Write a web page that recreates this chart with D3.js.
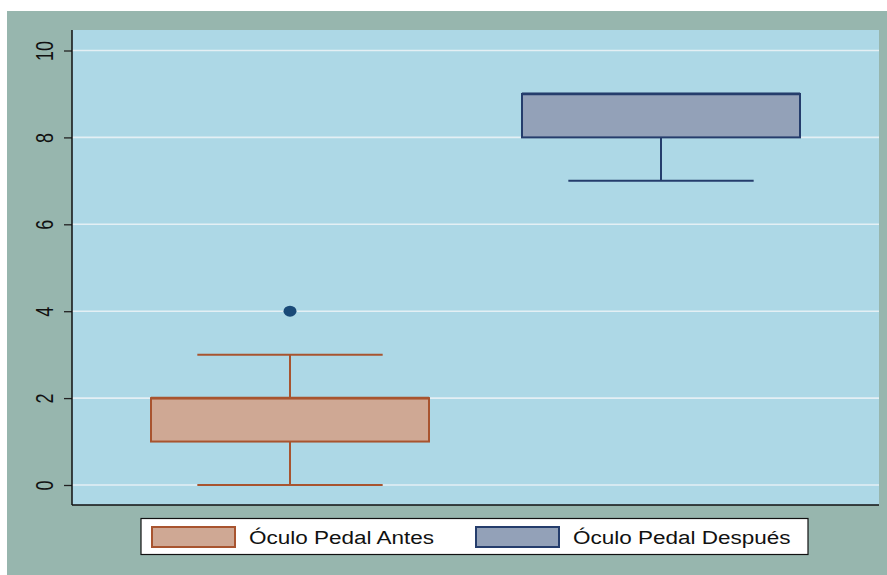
<!DOCTYPE html>
<html><head><meta charset="utf-8">
<script src="https://cdn.jsdelivr.net/npm/d3@7"></script>
<style>body{margin:0;background:#fff}svg{display:block}</style>
</head><body>
<script>
const categories = ["Óculo Pedal Antes", "Óculo Pedal Después"];
const q1 = [1, 8];
const median = [2, 9];
const q3 = [2, 9];
const whiskerLow = [0, 7];
const whiskerHigh = [3, 9];
const outliers = [[4], []];
const yTicks = [0, 2, 4, 6, 8, 10];
const fills = ["#cfa894", "#93a1b8"];
const strokes = ["#a8542f", "#253d6c"];

const W = 887, H = 575;
const svg = d3.select("body").append("svg").attr("width", W).attr("height", H);
svg.append("rect").attr("x", 7).attr("y", 11).attr("width", W - 7).attr("height", H - 11).attr("fill", "#97b6ae");
const pl = 72, pr = 879, pt = 30, pb = 505;
svg.append("rect").attr("x", pl).attr("y", pt).attr("width", pr - pl).attr("height", pb - pt).attr("fill", "#add8e6");

const y = d3.scaleLinear().domain([0, 10]).range([485, 50.5]);
const xc = d3.scalePoint().domain(categories).range([290, 661]);
const boxW = 278;

// grid
svg.append("g").selectAll("line").data(yTicks).join("line")
  .attr("x1", pl).attr("x2", pr).attr("y1", d => y(d)).attr("y2", d => y(d))
  .attr("stroke", "#e4eff4").attr("stroke-width", 1.6);

const g = svg.append("g");
categories.forEach((c, i) => {
  const cx = xc(c);
  const gg = g.append("g");
  gg.append("line").attr("x1", cx).attr("x2", cx).attr("y1", y(q1[i])).attr("y2", y(whiskerLow[i]))
    .attr("stroke", strokes[i]).attr("stroke-width", 2);
  gg.append("line").attr("x1", cx).attr("x2", cx).attr("y1", y(q3[i])).attr("y2", y(whiskerHigh[i]))
    .attr("stroke", strokes[i]).attr("stroke-width", 2);
  if (whiskerLow[i] < q1[i])
    gg.append("line").attr("x1", cx - boxW / 3).attr("x2", cx + boxW / 3).attr("y1", y(whiskerLow[i])).attr("y2", y(whiskerLow[i]))
      .attr("stroke", strokes[i]).attr("stroke-width", 2);
  if (whiskerHigh[i] > q3[i])
    gg.append("line").attr("x1", cx - boxW / 3).attr("x2", cx + boxW / 3).attr("y1", y(whiskerHigh[i])).attr("y2", y(whiskerHigh[i]))
      .attr("stroke", strokes[i]).attr("stroke-width", 2);
  gg.append("rect").attr("x", cx - boxW / 2).attr("y", y(q3[i])).attr("width", boxW).attr("height", y(q1[i]) - y(q3[i]))
    .attr("fill", fills[i]).attr("stroke", strokes[i]).attr("stroke-width", 2);
  gg.append("line").attr("x1", cx - boxW / 2).attr("x2", cx + boxW / 2).attr("y1", y(median[i])).attr("y2", y(median[i]))
    .attr("stroke", strokes[i]).attr("stroke-width", 2.8);
  outliers[i].forEach(o => {
    gg.append("ellipse").attr("cx", cx).attr("cy", y(o)).attr("rx", 6.5).attr("ry", 5.5).attr("fill", "#1a4a78");
  });
});

// axes
const ya = svg.append("g").attr("transform", `translate(${pl},0)`)
  .call(d3.axisLeft(y).tickValues(yTicks).tickSize(8).tickFormat(d3.format("d")));
ya.select(".domain").remove();
ya.selectAll(".tick line").attr("stroke", "#222").attr("stroke-width", 1.3);
ya.selectAll(".tick text").attr("font-family", "Liberation Sans, Arial, sans-serif").attr("font-size", 18)
  .attr("fill", "#111").attr("text-anchor", "middle").attr("x", null).attr("y", null)
  .attr("transform", "translate(-27.5,0) scale(1.32,1) rotate(-90)").attr("dy", "0.35em");
svg.append("line").attr("x1", pl).attr("x2", pl).attr("y1", pt).attr("y2", pb).attr("stroke", "#111").attr("stroke-width", 1.5);
svg.append("line").attr("x1", pl).attr("x2", pr).attr("y1", pb).attr("y2", pb).attr("stroke", "#111").attr("stroke-width", 1.5);

// legend
const lg = svg.append("g");
lg.append("rect").attr("x", 141).attr("y", 518.5).attr("width", 667).attr("height", 36).attr("fill", "#fff").attr("stroke", "#111").attr("stroke-width", 1.2);
const legX = [152, 476];
categories.forEach((c, i) => {
  lg.append("rect").attr("x", legX[i]).attr("y", 527).attr("width", 83).attr("height", 20)
    .attr("fill", fills[i]).attr("stroke", strokes[i]).attr("stroke-width", 2);
  lg.append("text").attr("transform", `translate(${legX[i] + 97},537.5) scale(1.25,1)`).attr("dy", "0.35em")
    .attr("font-family", "Liberation Sans, Arial, sans-serif").attr("font-size", 18).attr("fill", "#111").text(c);
});
</script>
</body></html>
